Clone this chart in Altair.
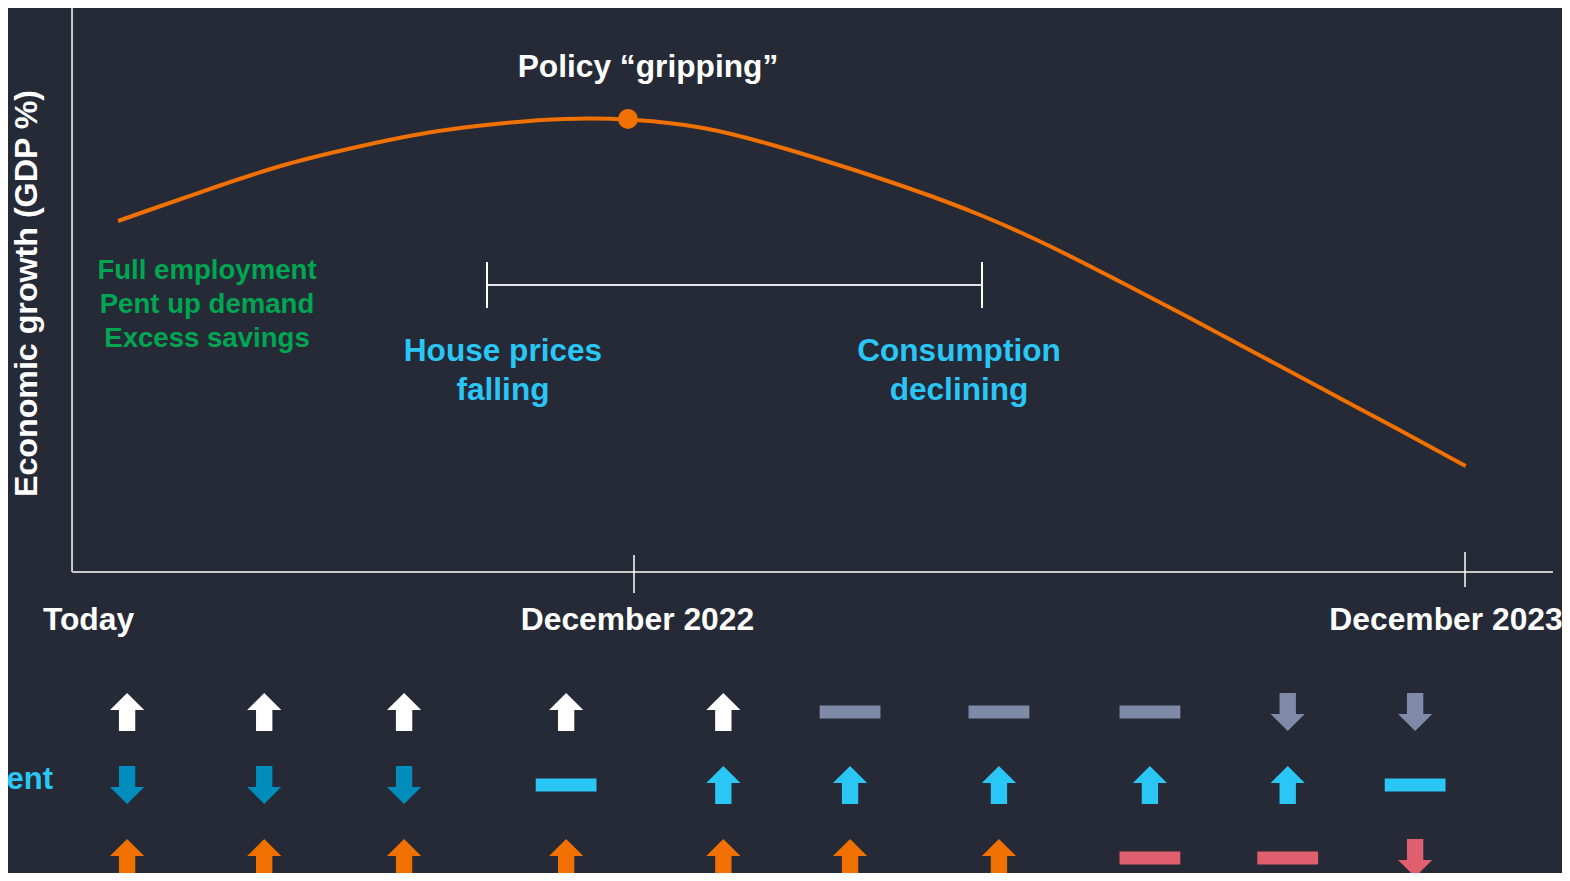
import altair as alt
import pandas as pd

# ---------------- data ----------------
# growth curve (x: months relative to December 2022, y: growth index)
CURVE_MONTHS = [-7.45, -7, -6, -5, -4, -3, -2, -1, 0, 1, 2, 3, 4, 5, 6, 7, 8, 9, 10, 11, 12.01]
CURVE_GDP = [3.51, 3.62, 3.86, 4.08, 4.25, 4.39, 4.48, 4.53, 4.52, 4.44, 4.27, 4.06,
             3.83, 3.57, 3.26, 2.91, 2.55, 2.18, 1.81, 1.44, 1.06]

PEAK_MONTH = [-0.087]
PEAK_GDP = [4.53]

# frame of the chart
AXIS_START = -8.115
AXIS_END = 13.27
AXIS_TOP = 5.75
TICK_MONTHS = [0, 12]

# bracket between the two blue notes
BRACKET_FROM = -2.123
BRACKET_TO = 5.025
BRACKET_LEVEL = 2.87

# timeline labels
TIME_LABELS = ["Today", "December 2022", "December 2023"]
TIME_LABEL_MONTHS = [-7.877, 0.05, 11.726]

# annotations
POLICY_TEXT = ["Policy “gripping”"]
POLICY_MONTH = [0.202]
POLICY_LEVEL = [4.95]

GREEN_TEXT = ["Full employment\nPent up demand\nExcess savings"]
GREEN_MONTH = [-6.166]
GREEN_LEVEL = [2.93]

BLUE_TEXT = ["House prices\nfalling", "Consumption\ndeclining"]
BLUE_MONTH = [-1.892, 4.693]
BLUE_LEVEL = [2.11, 2.11]

Y_TITLE = "Economic growth (GDP %)"

# indicator grid underneath the chart
COLUMN_MONTHS = [-7.32, -5.34, -3.32, -0.98, 1.29, 3.12, 5.27, 7.45, 9.44, 11.28]
ROW_LABELS = ["", "Unemployment", ""]
ROW_1 = ["up", "up", "up", "up", "up", "flat", "flat", "flat", "down", "down"]
ROW_2 = ["down", "down", "down", "flat", "up", "up", "up", "up", "up", "flat"]
ROW_3 = ["up", "up", "up", "up", "up", "up", "up", "flat", "flat", "down"]

# ---------------- styling ----------------
BG = "#262A37"
ORANGE = "#F07000"
GREEN = "#00A651"
LIGHT_BLUE = "#29C6F6"
DARK_BLUE = "#008DBB"
GREY = "#7F8AA8"
RED = "#E05F6E"
AXIS_GREY = "#C8C8C8"
FONT = "Liberation Sans"

UP = "M0,-1 L0.9,-0.1 L0.43,-0.1 L0.43,1 L-0.43,1 L-0.43,-0.1 L-0.9,-0.1 Z"
DOWN = "M0,1 L0.9,0.1 L0.43,0.1 L0.43,-1 L-0.43,-1 L-0.43,0.1 L-0.9,0.1 Z"
FLAT = "M-1.6,-0.34 L1.6,-0.34 L1.6,0.34 L-1.6,0.34 Z"

X_SCALE = alt.Scale(domain=[-9.0397, 13.4007], nice=False, zero=False)
Y_SCALE = alt.Scale(domain=[-3.01, 5.64], nice=False, zero=False)
ROW_SCALE = alt.Scale(domain=[-8.644, 3.2055], reverse=True, nice=False, zero=False)


def X(field):
    return alt.X(field, type="quantitative", scale=X_SCALE, axis=None)


def X2(field):
    return alt.X2(field)


def Y(field):
    return alt.Y(field, type="quantitative", scale=Y_SCALE, axis=None)


# ---------------- tables ----------------
curve_df = pd.DataFrame({"month": CURVE_MONTHS, "gdp": CURVE_GDP})
peak_df = pd.DataFrame({"month": PEAK_MONTH, "gdp": PEAK_GDP})

axis_df = pd.DataFrame({
    "x": [AXIS_START, AXIS_START],
    "x2": [AXIS_END, AXIS_START],
    "y": [0, 0],
    "y2": [0, AXIS_TOP],
})
tick_df = pd.DataFrame({"x": TICK_MONTHS, "y": [0.17, 0.2], "y2": [-0.21, -0.15]})
bracket_h = pd.DataFrame({"x": [BRACKET_FROM], "x2": [BRACKET_TO], "y": [BRACKET_LEVEL], "y2": [BRACKET_LEVEL]})
bracket_v = pd.DataFrame({"x": [BRACKET_FROM, BRACKET_TO],
                          "y": [BRACKET_LEVEL + 0.23, BRACKET_LEVEL + 0.23],
                          "y2": [BRACKET_LEVEL - 0.23, BRACKET_LEVEL - 0.23]})

time_df = pd.DataFrame({"label": TIME_LABELS, "month": TIME_LABEL_MONTHS, "y": [-0.58] * 3})
policy_df = pd.DataFrame({"label": POLICY_TEXT, "month": POLICY_MONTH, "y": POLICY_LEVEL})
green_df = pd.DataFrame({"label": GREEN_TEXT, "month": GREEN_MONTH, "y": GREEN_LEVEL})
blue_df = pd.DataFrame({"label": BLUE_TEXT, "month": BLUE_MONTH, "y": BLUE_LEVEL})
ytitle_df = pd.DataFrame({"label": [Y_TITLE], "month": [-8.765], "y": [2.785]})

rows = []
for r, states in enumerate([ROW_1, ROW_2, ROW_3], start=1):
    for m, s in zip(COLUMN_MONTHS, states):
        rows.append({"month": m, "row": r, "status": s, "key": f"{r}|{s}"})
ind_df = pd.DataFrame(rows)
rowlab_df = pd.DataFrame({"label": ROW_LABELS, "row": [1, 2, 3], "month": [-8.39] * 3})

# ---------------- layers ----------------
axes = alt.Chart(axis_df).mark_rule(color=AXIS_GREY, strokeWidth=2).encode(
    x=X("x"), x2=X2("x2"), y=Y("y"), y2=alt.Y2("y2"))
ticks = alt.Chart(tick_df).mark_rule(color="#FFFFFF", strokeWidth=1.5).encode(
    x=X("x"), y=Y("y"), y2=alt.Y2("y2"))
br_h = alt.Chart(bracket_h).mark_rule(color="#E6E6E6", strokeWidth=2).encode(
    x=X("x"), x2=X2("x2"), y=Y("y"), y2=alt.Y2("y2"))
br_v = alt.Chart(bracket_v).mark_rule(color="#FFFFFF", strokeWidth=2).encode(
    x=X("x"), y=Y("y"), y2=alt.Y2("y2"))

curve = alt.Chart(curve_df).mark_line(color=ORANGE, strokeWidth=4, interpolate="natural").encode(
    x=X("month"), y=Y("gdp"))
peak = alt.Chart(peak_df).mark_point(filled=True, color=ORANGE, opacity=1, size=400, shape="circle").encode(
    x=X("month"), y=Y("gdp"))

text_base = dict(font=FONT, fontWeight="bold", align="center", baseline="alphabetic")
time_text = alt.Chart(time_df).mark_text(color="#FFFFFF", fontSize=31.8, **text_base).encode(
    x=X("month"), y=Y("y"), text="label:N")
policy_text = alt.Chart(policy_df).mark_text(color="#FFFFFF", fontSize=31.7, **text_base).encode(
    x=X("month"), y=Y("y"), text="label:N")
green_text = alt.Chart(green_df).mark_text(color=GREEN, fontSize=27.6, lineBreak="\n", lineHeight=34,
                                           **text_base).encode(
    x=X("month"), y=Y("y"), text="label:N")
blue_text = alt.Chart(blue_df).mark_text(color=LIGHT_BLUE, fontSize=31.6, lineBreak="\n", lineHeight=38.5,
                                         **text_base).encode(
    x=X("month"), y=Y("y"), text="label:N")
ytitle = alt.Chart(ytitle_df).mark_text(color="#FFFFFF", fontSize=32.2, font=FONT, fontWeight="bold",
                                        align="center", baseline="middle", angle=270).encode(
    x=X("month"), y=Y("y"), text="label:N")

indicators = alt.Chart(ind_df).mark_point(filled=True, size=1444, opacity=1, strokeWidth=0).encode(
    x=X("month"),
    y=alt.Y("row:Q", scale=ROW_SCALE, axis=None),
    shape=alt.Shape("status:N", scale=alt.Scale(domain=["up", "down", "flat"], range=[UP, DOWN, FLAT]),
                    legend=None),
    color=alt.Color("key:N", scale=alt.Scale(
        domain=["1|up", "1|flat", "1|down", "2|down", "2|flat", "2|up", "3|up", "3|flat", "3|down"],
        range=["#FFFFFF", GREY, GREY, DARK_BLUE, LIGHT_BLUE, LIGHT_BLUE, ORANGE, RED, RED]), legend=None),
)
row_labels = alt.Chart(rowlab_df).mark_text(color=LIGHT_BLUE, fontSize=31, font=FONT, fontWeight="bold",
                                            align="right", baseline="alphabetic", dy=4).encode(
    x=X("month"), y=alt.Y("row:Q", scale=ROW_SCALE, axis=None), text="label:N")

chart = alt.layer(
    axes, ticks, br_h, br_v, curve, peak, time_text, policy_text, green_text, blue_text, ytitle,
    indicators, row_labels
).resolve_scale(y="independent").properties(
    width=1554, height=865, padding=0,
    autosize=alt.AutoSizeParams(type="none"),
    background=BG,
).configure_view(strokeWidth=0)

chart.save("out.html", embed_options={"renderer": "svg", "actions": False})
